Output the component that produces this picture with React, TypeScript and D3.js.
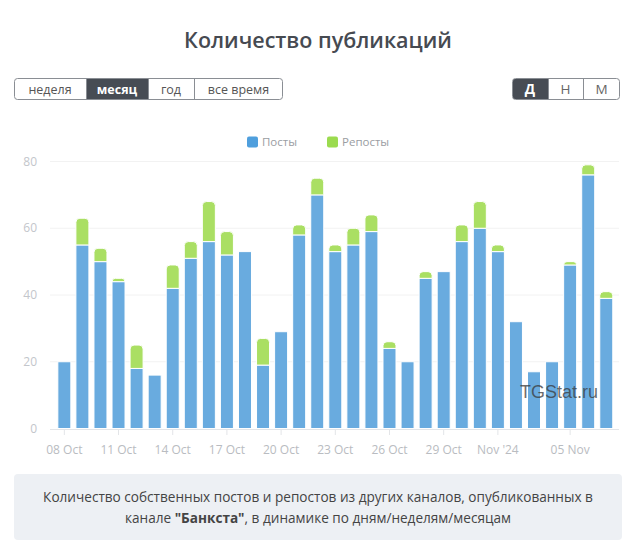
import React from "react";
import * as d3 from "d3";

const categories = [
  "08 Oct","09 Oct","10 Oct","11 Oct","12 Oct","13 Oct","14 Oct","15 Oct","16 Oct","17 Oct",
  "18 Oct","19 Oct","20 Oct","21 Oct","22 Oct","23 Oct","24 Oct","25 Oct","26 Oct","27 Oct",
  "28 Oct","29 Oct","30 Oct","31 Oct","01 Nov","02 Nov","03 Nov","04 Nov","05 Nov","06 Nov","07 Nov",
];
const posts = [20,55,50,44,18,16,42,51,56,52,53,19,29,58,70,53,55,59,24,20,45,47,56,60,53,32,17,20,49,76,39];
const reposts = [0,8,4,1,7,0,7,5,12,7,0,8,0,3,5,2,5,5,2,0,2,0,5,8,2,0,0,0,1,3,2];
const tickCategories = ["08 Oct","11 Oct","14 Oct","17 Oct","20 Oct","23 Oct","26 Oct","29 Oct","01 Nov","05 Nov"];
const tickLabels = ["08 Oct","11 Oct","14 Oct","17 Oct","20 Oct","23 Oct","26 Oct","29 Oct","Nov '24","05 Nov"];
const yTicks = [0, 20, 40, 60, 80];
const seriesNames = ["Посты", "Репосты"];
const periodButtons = ["неделя", "месяц", "год", "все время"];
const groupButtons = ["Д", "Н", "М"];

const BLUE = "#69abdf";
const GREEN = "#aadf63";
const FONT = "'Open Sans', sans-serif";

function topRoundedRect(x: number, y: number, w: number, h: number, r: number) {
  const rr = Math.min(r, h, w / 2);
  return `M${x},${y + h}V${y + rr}Q${x},${y} ${x + rr},${y}H${x + w - rr}Q${x + w},${y} ${x + w},${y + rr}V${y + h}Z`;
}

export default function App() {
  const W = 638, H = 542;
  const x = d3.scaleBand<string>().domain(categories).range([55.3, 615.3]).padding(0);
  const y = d3.scaleLinear().domain([0, 80]).range([428.5, 161.5]);
  const bw = 13;

  const leftWidths = [72, 62, 46, 89];
  const leftX = 14;
  let acc = leftX;
  const leftPos = leftWidths.map((w) => { const p = acc; acc += w; return p; });
  const rightWidths = [36, 35, 37];
  let racc = 512;
  const rightPos = rightWidths.map((w) => { const p = racc; racc += w; return p; });

  return (
    <svg width={W} height={H} style={{ position: "absolute", left: 0, top: 0, background: "#fff" }} fontFamily={FONT}>
      <text x={318} y={48} textAnchor="middle" fontSize={21.5} fontWeight={600} fill="#464a51">Количество публикаций</text>

      {/* period buttons */}
      <rect x={leftX + 0.5} y={78.5} width={acc - leftX - 1} height={21} rx={3} fill="#fff" stroke="#8a8e94" />
      {periodButtons.map((b, i) => (
        <g key={b}>
          {i === 1 && <rect x={leftPos[i]} y={79} width={leftWidths[i]} height={20} fill="#474c54" />}
          {i > 0 && <line x1={leftPos[i] + 0.5} x2={leftPos[i] + 0.5} y1={79} y2={99} stroke="#8a8e94" />}
          <text x={leftPos[i] + leftWidths[i] / 2} y={93.5} textAnchor="middle" fontSize={12.5}
            fontWeight={i === 1 ? 700 : 400} fill={i === 1 ? "#fff" : "#555"}>{b}</text>
        </g>
      ))}
      <rect x={512.5} y={78.5} width={racc - 512 - 1} height={21} rx={3} fill="#fff" stroke="#8a8e94" />
      {groupButtons.map((b, i) => (
        <g key={b}>
          {i === 0 && <path d={`M${rightPos[0] + 3},79H${rightPos[0] + rightWidths[0]}V99H${rightPos[0] + 3}Q${rightPos[0] + 1},99 ${rightPos[0] + 1},97V81Q${rightPos[0] + 1},79 ${rightPos[0] + 3},79Z`} fill="#474c54" />}
          {i > 0 && <line x1={rightPos[i] + 0.5} x2={rightPos[i] + 0.5} y1={79} y2={99} stroke="#8a8e94" />}
          <text x={rightPos[i] + rightWidths[i] / 2} y={94} textAnchor="middle" fontSize={13.5}
            fontWeight={i === 0 ? 700 : 400} fill={i === 0 ? "#fff" : "#666"}>{b}</text>
        </g>
      ))}

      {/* legend */}
      {seriesNames.map((s, i) => {
        const lx = i === 0 ? 247 : 327;
        return (
          <g key={s}>
            <rect x={lx} y={136.5} width={11} height={11} rx={2} fill={i === 0 ? "#4f9fdd" : "#9bdb4f"} />
            <text x={lx + 15} y={146} fontSize={11.5} fill="#9a9da2">{s}</text>
          </g>
        );
      })}

      {/* grid */}
      {yTicks.map((t) => (
        <g key={t}>
          {t > 0 && <line x1={50} x2={619} y1={y(t)} y2={y(t)} stroke="#f2f2f2" />}
          <text x={37} y={y(t) + 4} textAnchor="end" fontSize={12} fill="#c3c6cb">{t}</text>
        </g>
      ))}

      {/* bars */}
      {categories.map((c, i) => {
        const cx = (x(c) as number) + x.bandwidth() / 2;
        const x0 = cx - bw / 2;
        const p = posts[i], r = reposts[i];
        const yb = y(0), yp = y(p), yt = y(p + r);
        return (
          <g key={c} stroke="#fff" strokeWidth={1}>
            {r > 0 ? (
              <>
                <rect x={x0} y={yp} width={bw} height={yb - yp} fill={BLUE} />
                <path d={topRoundedRect(x0, yt, bw, yp - yt, 4)} fill={GREEN} />
              </>
            ) : (
              <rect x={x0} y={yp} width={bw} height={yb - yp} fill={BLUE} />
            )}
          </g>
        );
      })}

      {/* x axis */}
      <line x1={50} x2={619} y1={429.5} y2={429.5} stroke="#e3e5e8" />
      {tickCategories.map((c, i) => {
        const cx = (x(c) as number) + x.bandwidth() / 2;
        return (
          <g key={c}>
            <line x1={cx} x2={cx} y1={430} y2={435} stroke="#e3e5e8" />
            <text x={cx} y={454} textAnchor="middle" fontSize={12} fill="#b9bcc1">{tickLabels[i]}</text>
          </g>
        );
      })}

      {/* watermark */}
      <text x={559} y={398} textAnchor="middle" fontSize={18} fill="#3a3a3a" fillOpacity={0.75}
        fontFamily="'Liberation Sans', Arial, sans-serif">TGStat.ru</text>

      {/* caption */}
      <rect x={14} y={474} width={608} height={66} rx={4} fill="#edf0f4" />
      <text x={318} y={502} textAnchor="middle" fontSize={13.6} fill="#444">
        Количество собственных постов и репостов из других каналов, опубликованных в
      </text>
      <text x={318} y={523} textAnchor="middle" fontSize={13.6} fill="#444">
        канале <tspan fontWeight={700}>"Банкста"</tspan>, в динамике по дням/неделям/месяцам
      </text>
    </svg>
  );
}
